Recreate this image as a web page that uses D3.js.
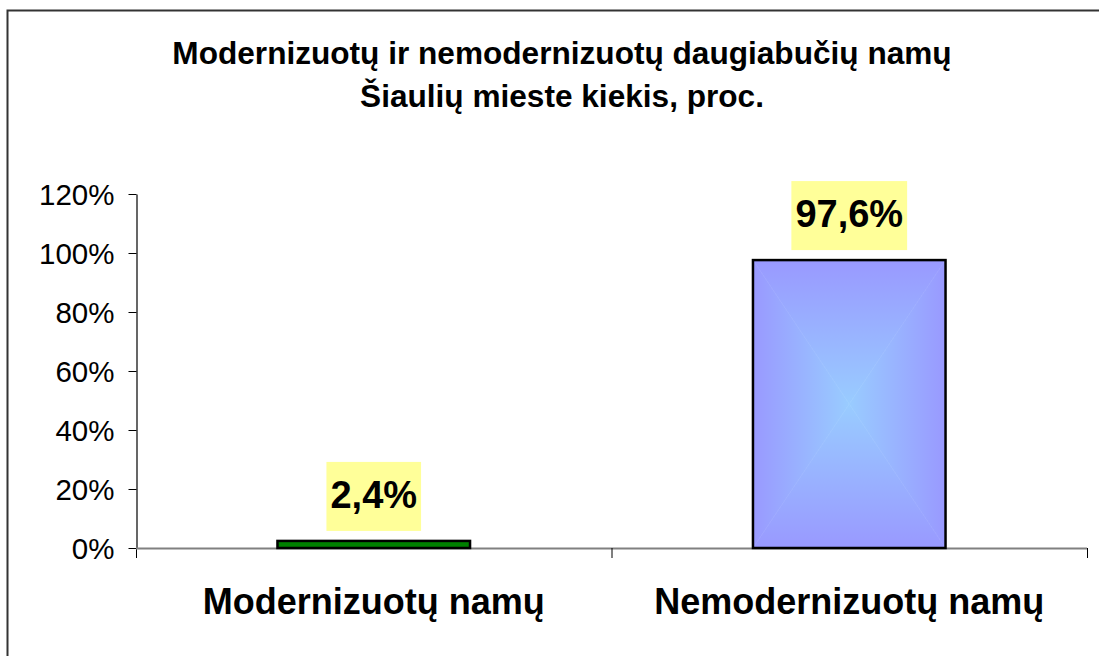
<!DOCTYPE html>
<html>
<head>
<meta charset="utf-8">
<script src="https://cdn.jsdelivr.net/npm/d3@7"></script>
<style>
  body { margin: 0; background: #fff; }
  text { font-family: "Liberation Sans", Arial, sans-serif; }
</style>
</head>
<body>
<div id="chart"></div>
<script>
const width = 1099;
const height = 656;

// data
const titleLines = ["Modernizuotų ir nemodernizuotų daugiabučių namų", "Šiaulių mieste kiekis, proc."];
const categories = ["Modernizuotų namų", "Nemodernizuotų namų"];
const values = [0.024, 0.976];
const valueLabels = ["2,4%", "97,6%"];
const yTicks = [0, 0.2, 0.4, 0.6, 0.8, 1.0, 1.2];

const svg = d3.select("#chart")
    .append("svg")
    .attr("width", width)
    .attr("height", height);

// chart frame
svg.append("rect")
    .attr("x", 7.5)
    .attr("y", 10.5)
    .attr("width", 1200)
    .attr("height", 800)
    .attr("fill", "#fff")
    .attr("stroke", "#333")
    .attr("stroke-width", 2);

const x = d3.scaleBand().domain(categories).range([136, 1087]).padding(0);
const y = d3.scaleLinear().domain([0, 1.2]).range([548, 194]);

// gradients for the blue bar (from-center style, four triangles)
const defs = svg.append("defs");
const edge = "#9999ff", center = "#99ccff";
const grads = [
    { id: "gTop", x1: 0, y1: 0, x2: 0, y2: 1 },
    { id: "gBottom", x1: 0, y1: 1, x2: 0, y2: 0 },
    { id: "gLeft", x1: 0, y1: 0, x2: 1, y2: 0 },
    { id: "gRight", x1: 1, y1: 0, x2: 0, y2: 0 }
];
grads.forEach(g => {
    const lg = defs.append("linearGradient").attr("id", g.id)
        .attr("x1", g.x1).attr("y1", g.y1).attr("x2", g.x2).attr("y2", g.y2);
    lg.append("stop").attr("offset", 0).attr("stop-color", edge);
    lg.append("stop").attr("offset", 1).attr("stop-color", center);
});

// title
svg.append("text")
    .attr("x", 562)
    .attr("y", 64)
    .attr("text-anchor", "middle")
    .attr("font-size", 31.6)
    .attr("font-weight", "bold")
    .selectAll("tspan")
    .data(titleLines)
    .enter()
    .append("tspan")
    .attr("x", 562)
    .attr("dy", (d, i) => i === 0 ? 0 : 43)
    .text(d => d);

// y axis
const yAxis = svg.append("g")
    .attr("transform", "translate(136.5,0)")
    .call(d3.axisLeft(y).tickValues(yTicks).tickFormat(d3.format(".0%")).tickSize(8).tickSizeOuter(0).tickPadding(14));
yAxis.attr("font-size", 29.5).attr("font-family", "'Liberation Sans', Arial, sans-serif");
yAxis.select(".domain").attr("stroke", "#000").attr("stroke-width", 1.2);
yAxis.selectAll(".tick line").attr("stroke", "#000");
yAxis.selectAll("text").attr("fill", "#000").attr("dy", "0.36em");
// extend the y axis below zero
svg.append("line")
    .attr("x1", 136.5).attr("x2", 136.5)
    .attr("y1", y(0)).attr("y2", y(0) + 10)
    .attr("stroke", "#000");

// x axis line
svg.append("line")
    .attr("x1", 136).attr("x2", x.range()[1])
    .attr("y1", y(0) + 0.5).attr("y2", y(0) + 0.5)
    .attr("stroke", "#808080")
    .attr("stroke-width", 2);

// category separators
const seps = categories.map(c => x(c) + x.bandwidth());
svg.selectAll(".sep")
    .data(seps)
    .enter()
    .append("line")
    .attr("class", "sep")
    .attr("x1", d => d + 0.5).attr("x2", d => d + 0.5)
    .attr("y1", y(0)).attr("y2", y(0) + 10)
    .attr("stroke", "#000");

const barW = x.bandwidth() * 0.405;
const bars = categories.map((c, i) => ({
    cat: c,
    v: values[i],
    label: valueLabels[i],
    x0: x(c) + x.bandwidth() / 2 - barW / 2,
    x1: x(c) + x.bandwidth() / 2 + barW / 2,
    y0: y(values[i]),
    y1: y(0)
}));

// green bar
const b0 = bars[0];
svg.append("rect")
    .attr("x", b0.x0).attr("y", b0.y0)
    .attr("width", b0.x1 - b0.x0).attr("height", b0.y1 - b0.y0)
    .attr("fill", "#008000")
    .attr("stroke", "#000")
    .attr("stroke-width", 2.5);

// blue bar with from-center gradient
const b1 = bars[1];
const cx = (b1.x0 + b1.x1) / 2, cy = (b1.y0 + b1.y1) / 2;
const tris = [
    { pts: [[b1.x0, b1.y0], [b1.x1, b1.y0], [cx, cy]], g: "gTop" },
    { pts: [[b1.x0, b1.y1], [b1.x1, b1.y1], [cx, cy]], g: "gBottom" },
    { pts: [[b1.x0, b1.y0], [b1.x0, b1.y1], [cx, cy]], g: "gLeft" },
    { pts: [[b1.x1, b1.y0], [b1.x1, b1.y1], [cx, cy]], g: "gRight" }
];
svg.selectAll(".tri")
    .data(tris)
    .enter()
    .append("path")
    .attr("class", "tri")
    .attr("d", d => "M" + d.pts.map(p => p.join(",")).join("L") + "Z")
    .attr("fill", d => `url(#${d.g})`)
    .attr("stroke", d => `url(#${d.g})`)
    .attr("stroke-width", 0.6);
svg.append("rect")
    .attr("x", b1.x0).attr("y", b1.y0)
    .attr("width", b1.x1 - b1.x0).attr("height", b1.y1 - b1.y0)
    .attr("fill", "none")
    .attr("stroke", "#000")
    .attr("stroke-width", 2.5);

// value labels with yellow boxes
const lab = svg.selectAll(".vlab")
    .data(bars)
    .enter()
    .append("g")
    .attr("class", "vlab");
lab.append("rect")
    .attr("fill", "#ffff99");
lab.append("text")
    .attr("x", d => (d.x0 + d.x1) / 2)
    .attr("y", d => d.y0 - 33)
    .attr("text-anchor", "middle")
    .attr("font-size", 38)
    .attr("font-weight", "bold")
    .text(d => d.label);
lab.each(function (d) {
    const g = d3.select(this);
    const bb = g.select("text").node().getBBox();
    g.select("rect")
        .attr("x", bb.x - 4).attr("y", d.y0 - 33 - 46)
        .attr("width", bb.width + 8).attr("height", 69);
});

// category labels
svg.selectAll(".cat")
    .data(categories)
    .enter()
    .append("text")
    .attr("class", "cat")
    .attr("x", d => x(d) + x.bandwidth() / 2)
    .attr("y", 614)
    .attr("text-anchor", "middle")
    .attr("font-size", 36)
    .attr("font-weight", "bold")
    .text(d => d);
</script>
</body>
</html>
